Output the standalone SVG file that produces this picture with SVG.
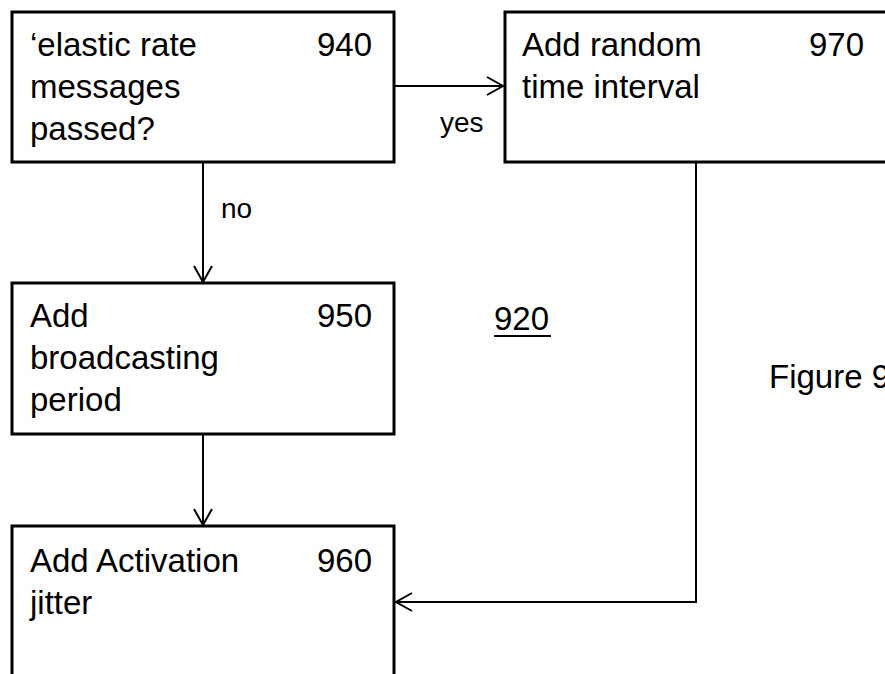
<svg xmlns="http://www.w3.org/2000/svg" width="885" height="674" viewBox="0 0 885 674">
  <style>
    .box { fill: none; stroke: #000; stroke-width: 3; }
    .wire { fill: none; stroke: #000; stroke-width: 2; }
    text { font-family: "Liberation Sans", Arial, sans-serif; fill: #000; }
    .lbl { font-size: 33px; }
    .num { font-size: 33px; text-anchor: end; }
    .edge { font-size: 28px; }
  </style>
  <defs>
    <marker id="arrow" markerUnits="userSpaceOnUse" markerWidth="20" markerHeight="22" refX="17" refY="10" orient="auto">
      <path d="M1,1 L17,10 L1,19" fill="none" stroke="#000" stroke-width="2"/>
    </marker>
  </defs>
  <rect width="885" height="674" fill="#fff"/>

  <g id="n940">
    <rect class="box" x="12" y="12" width="382" height="150"/>
    <text class="lbl" x="30" y="56">‘elastic rate</text>
    <text class="lbl" x="30" y="98">messages</text>
    <text class="lbl" x="30" y="140">passed?</text>
    <text class="num" x="372" y="56">940</text>
  </g>

  <g id="n970">
    <rect class="box" x="505" y="12" width="400" height="150"/>
    <text class="lbl" x="522" y="56">Add random</text>
    <text class="lbl" x="522" y="98">time interval</text>
    <text class="num" x="864" y="56">970</text>
  </g>

  <g id="n950">
    <rect class="box" x="12" y="283" width="382" height="151"/>
    <text class="lbl" x="30" y="327">Add</text>
    <text class="lbl" x="30" y="369">broadcasting</text>
    <text class="lbl" x="30" y="411">period</text>
    <text class="num" x="372" y="327">950</text>
  </g>

  <g id="n960">
    <rect class="box" x="12" y="526" width="382" height="200"/>
    <text class="lbl" x="30" y="572">Add Activation</text>
    <text class="lbl" x="30" y="614">jitter</text>
    <text class="num" x="372" y="572">960</text>
  </g>

  <g id="connectors">
    <line class="wire" x1="395" y1="86" x2="503" y2="86" marker-end="url(#arrow)"/>
    <line class="wire" x1="203" y1="163" x2="203" y2="282" marker-end="url(#arrow)"/>
    <line class="wire" x1="203" y1="435" x2="203" y2="525" marker-end="url(#arrow)"/>
    <polyline class="wire" points="696,163 696,602 396,602" marker-end="url(#arrow)"/>
    <text class="edge" x="440" y="132">yes</text>
    <text class="edge" x="221" y="218">no</text>
  </g>

  <g id="captions">
    <text class="lbl" x="494" y="330">920</text>
    <line x1="494" y1="336" x2="551" y2="336" stroke="#000" stroke-width="2"/>
    <text class="lbl" x="769" y="388">Figure 9</text>
  </g>
</svg>
